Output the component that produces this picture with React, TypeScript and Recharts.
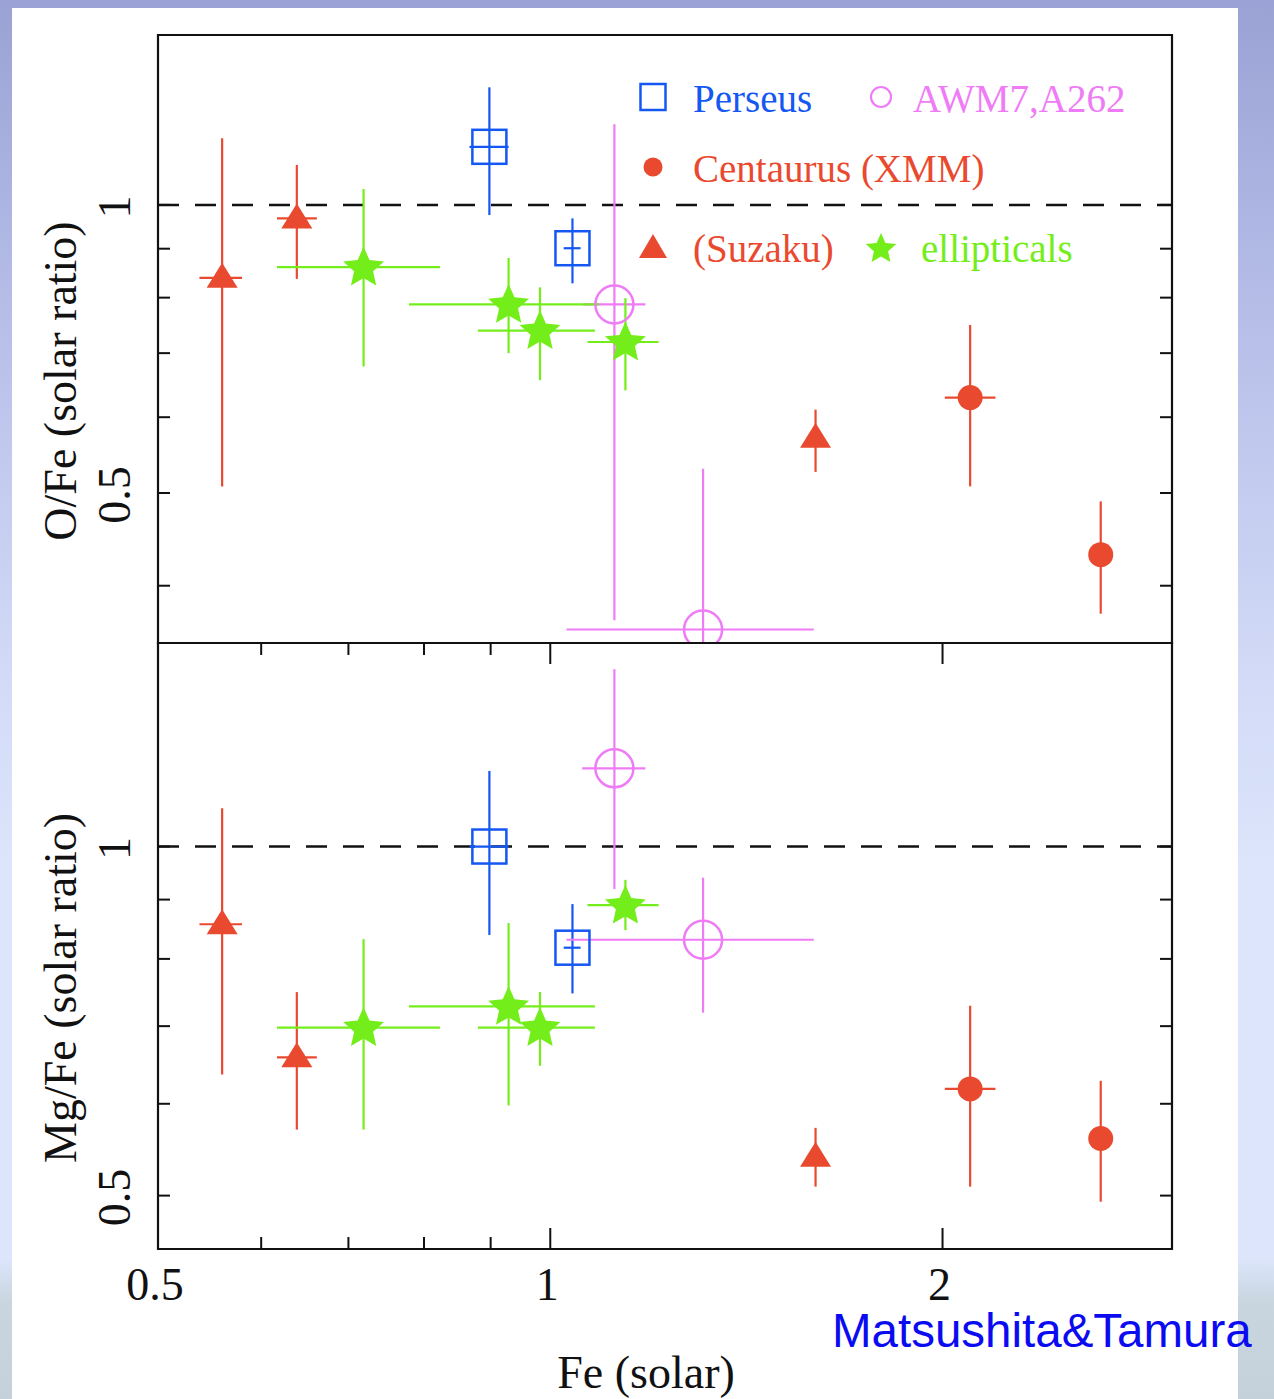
import React from 'react';
import {
  ScatterChart,
  Scatter,
  XAxis,
  YAxis,
  ErrorBar,
  ReferenceLine,
  ReferenceArea,
  CartesianGrid,
  Legend,
} from 'recharts';

// ---------- axis settings ----------
const FE_DOMAIN = [0.5, 3];
const FE_TICKS = [0.5, 0.6, 0.7, 0.8, 0.9, 1, 2];
const FE_LABELS = [0.5, 1, 2];
const O_DOMAIN = [0.3485, 1.505];
const MG_DOMAIN = [0.4497, 1.498];
const O_TICKS = [0.4, 0.5, 0.6, 0.7, 0.8, 0.9, 1];
const MG_TICKS = [0.5, 0.6, 0.7, 0.8, 0.9, 1];
const RATIO_LABELS = [0.5, 1];

// ---------- measurements: [Fe, Fe low, Fe high, ratio, ratio low, ratio high] ----------
type Row = [number, number, number, number, number, number];

const perseusO: Row[] = [
  [0.898, 0.867, 0.929, 1.15, 0.976, 1.327],
  [1.04, 1.024, 1.055, 0.901, 0.828, 0.968],
];
const awmO: Row[] = [
  [1.12, 1.06, 1.183, 0.787, 0.368, 1.214],
  [1.31, 1.029, 1.593, 0.36, 0.3, 0.53],
];
const centaurusO: Row[] = [
  [2.1, 2.008, 2.196, 0.629, 0.508, 0.749],
  [2.645, 2.645, 2.645, 0.431, 0.374, 0.49],
];
const suzakuO: Row[] = [
  [0.56, 0.538, 0.58, 0.839, 0.508, 1.174],
  [0.639, 0.617, 0.662, 0.968, 0.837, 1.101],
  [1.598, 1.598, 1.598, 0.571, 0.526, 0.611],
];
const ellipticalsO: Row[] = [
  [0.719, 0.617, 0.823, 0.861, 0.678, 1.039],
  [0.929, 0.779, 1.09, 0.787, 0.7, 0.88],
  [0.982, 0.88, 1.082, 0.739, 0.656, 0.82],
  [1.142, 1.068, 1.211, 0.719, 0.64, 0.799],
];

const perseusMg: Row[] = [
  [0.898, 0.867, 0.929, 1.0, 0.839, 1.162],
  [1.04, 1.024, 1.055, 0.818, 0.747, 0.892],
];
const awmMg: Row[] = [
  [1.12, 1.058, 1.183, 1.168, 0.919, 1.422],
  [1.31, 1.029, 1.593, 0.831, 0.719, 0.94],
];
const centaurusMg: Row[] = [
  [2.1, 2.008, 2.196, 0.618, 0.509, 0.729],
  [2.645, 2.645, 2.645, 0.56, 0.494, 0.628],
];
const suzakuMg: Row[] = [
  [0.56, 0.538, 0.58, 0.857, 0.636, 1.079],
  [0.639, 0.617, 0.662, 0.658, 0.57, 0.749],
  [1.598, 1.598, 1.598, 0.54, 0.509, 0.572],
];
const ellipticalsMg: Row[] = [
  [0.719, 0.617, 0.823, 0.698, 0.57, 0.832],
  [0.929, 0.779, 1.082, 0.728, 0.598, 0.859],
  [0.982, 0.88, 1.082, 0.698, 0.647, 0.749],
  [1.142, 1.068, 1.211, 0.89, 0.847, 0.936],
];

// ---------- styling ----------
const BLUE = '#1457f3';
const MAGENTA = '#ef7cf6';
const RED = '#e94a2f';
const GREEN = '#74ee1a';
const INK = '#111';
const SERIF = '"Liberation Serif", "DejaVu Serif", serif';
const SANS = '"Liberation Sans", Arial, sans-serif';

const PLOT_W = 1014;
const TOP_H = 608;
const BOTTOM_H = 606;

const toPoints = (rows: Row[]) =>
  rows.map(([fe, feLo, feHi, r, rLo, rHi]) => ({
    fe,
    r,
    feErr: [fe - feLo, feHi - fe],
    rErr: [r - rLo, rHi - r],
  }));

const starPath = (cx: number, cy: number, R: number, r: number) => {
  let d = '';
  for (let i = 0; i < 10; i++) {
    const a = -Math.PI / 2 + (i * Math.PI) / 5;
    const rad = i % 2 === 0 ? R : r;
    d += (i ? 'L' : 'M') + (cx + rad * Math.cos(a)).toFixed(2) + ',' + (cy + rad * Math.sin(a)).toFixed(2);
  }
  return d + 'Z';
};

const SquareMark = (p: any) => (
  <rect x={p.cx - 17} y={p.cy - 17} width={34} height={34} fill="none" stroke={BLUE} strokeWidth={2.5} />
);
const RingMark = (p: any) => (
  <circle cx={p.cx} cy={p.cy} r={19} fill="none" stroke={MAGENTA} strokeWidth={2.5} />
);
const DotMark = (p: any) => <circle cx={p.cx} cy={p.cy} r={12.5} fill={RED} />;
const TriangleMark = (p: any) => (
  <path
    d={`M${p.cx},${p.cy - 15}L${p.cx + 15.5},${p.cy + 10}L${p.cx - 15.5},${p.cy + 10}Z`}
    fill={RED}
  />
);
const StarMark = (p: any) => <path d={starPath(p.cx, p.cy + 1, 21.5, 10)} fill={GREEN} />;

// ---------- axis ticks (drawn inward, mirrored on the opposite frame side) ----------
const makeFeTick = (plotH: number, withLabels: boolean) => (props: any) => {
  const { x, y, payload } = props;
  const v = payload.value;
  const major = FE_LABELS.includes(v);
  const len = major ? 21 : 12;
  return (
    <g>
      <line x1={x} x2={x} y1={y} y2={y - len} stroke={INK} strokeWidth={2} />
      <line x1={x} x2={x} y1={y - plotH} y2={y - plotH + len} stroke={INK} strokeWidth={2} />
      {withLabels && major && (
        <text x={x - 3} y={y + 51} textAnchor="middle" fontSize={46} fontFamily={SERIF} fill={INK}>
          {v}
        </text>
      )}
    </g>
  );
};

const makeRatioTick = () => (props: any) => {
  const { x, y, payload } = props;
  const v = payload.value;
  const major = RATIO_LABELS.includes(v);
  const lx = x - 43;
  return (
    <g>
      <line x1={x} x2={x + 12} y1={y} y2={y} stroke={INK} strokeWidth={2} />
      <line x1={x + PLOT_W - 12} x2={x + PLOT_W} y1={y} y2={y} stroke={INK} strokeWidth={2} />
      {major && (
        <text
          x={lx}
          y={y + 2}
          transform={`rotate(-90 ${lx} ${y + 2})`}
          textAnchor="middle"
          dominantBaseline="central"
          fontSize={46}
          fontFamily={SERIF}
          fill={INK}
        >
          {v}
        </text>
      )}
    </g>
  );
};

const yTitle = (text: string) => (props: any) => {
  const vb = props.viewBox;
  const cx = vb.x + 2;
  const cy = vb.y + vb.height / 2 + 42;
  return (
    <text
      x={cx}
      y={cy}
      transform={`rotate(-90 ${cx} ${cy})`}
      textAnchor="middle"
      dominantBaseline="central"
      fontSize={46}
      fontFamily={SERIF}
      fill={INK}
    >
      {text}
    </text>
  );
};

const xTitle = (props: any) => {
  const vb = props.viewBox;
  return (
    <text
      x={vb.x + 488}
      y={vb.y + 139}
      textAnchor="middle"
      fontSize={46}
      fontFamily={SERIF}
      fill={INK}
    >
      Fe (solar)
    </text>
  );
};

// ---------- legend ----------
const LegendBox = () => (
  <svg width={540} height={210} style={{ display: 'block' }}>
    <rect x={33 - 12.5} y={27 - 13} width={25} height={26} fill="none" stroke={BLUE} strokeWidth={2.5} />
    <text x={73} y={42} fontSize={39} fontFamily={SERIF} fill={BLUE}>Perseus</text>
    <circle cx={261} cy={27} r={10} fill="none" stroke={MAGENTA} strokeWidth={2.2} />
    <text x={293} y={42} fontSize={39} fontFamily={SERIF} fill={MAGENTA}>AWM7,A262</text>
    <circle cx={33} cy={97} r={9.5} fill={RED} />
    <text x={73} y={112} fontSize={39} fontFamily={SERIF} fill={RED}>Centaurus (XMM)</text>
    <path d="M33,164L47,188L19,188Z" fill={RED} />
    <text x={73} y={192} fontSize={39} fontFamily={SERIF} fill={RED}>(Suzaku)</text>
    <path d={starPath(261, 179, 16, 7.5)} fill={GREEN} />
    <text x={301} y={192} fontSize={39} fontFamily={SERIF} fill={GREEN}>ellipticals</text>
  </svg>
);

type Panel = {
  perseus: Row[];
  awm: Row[];
  centaurus: Row[];
  suzaku: Row[];
  ellipticals: Row[];
};

const seriesList = (p: Panel) => [
  { key: 'perseus', rows: p.perseus, color: BLUE, shape: SquareMark },
  { key: 'awm', rows: p.awm, color: MAGENTA, shape: RingMark },
  { key: 'centaurus', rows: p.centaurus, color: RED, shape: DotMark },
  { key: 'suzaku', rows: p.suzaku, color: RED, shape: TriangleMark },
  { key: 'ellipticals', rows: p.ellipticals, color: GREEN, shape: StarMark },
];

const renderSeries = (p: Panel) =>
  seriesList(p).map((s) => (
    <Scatter key={s.key} name={s.key} data={toPoints(s.rows)} shape={s.shape} fill={s.color} isAnimationActive={false}>
      <ErrorBar dataKey="feErr" direction="x" width={0} stroke={s.color} strokeWidth={2.2} />
      <ErrorBar dataKey="rErr" direction="y" width={0} stroke={s.color} strokeWidth={2.2} />
    </Scatter>
  ));

export default function App() {
  return (
    <div
      style={{
        position: 'absolute',
        left: 0,
        top: 0,
        width: 1274,
        height: 1399,
        overflow: 'hidden',
        background:
          'linear-gradient(to bottom, #9aa2d5 0%, #b9c1ea 25%, #d2daf7 48%, #dce5fb 62%, #dce5fb 90%, #c9d6e0 93%, #c4d0da 100%)',
      }}
    >
      <div style={{ position: 'absolute', left: 12, top: 8, width: 1226, height: 1391, background: '#fff' }} />

      {/* O/Fe panel */}
      <div style={{ position: 'absolute', left: 0, top: 0 }}>
        <ScatterChart width={1274} height={660} margin={{ top: 35, right: 102, bottom: 17, left: 58 }}>
          <XAxis
            type="number"
            dataKey="fe"
            scale="log"
            domain={FE_DOMAIN}
            allowDataOverflow
            ticks={FE_TICKS}
            interval={0}
            height={0}
            tickSize={0}
            tickMargin={0}
            axisLine={false}
            tick={makeFeTick(TOP_H, false)}
          />
          <YAxis
            type="number"
            dataKey="r"
            scale="log"
            domain={O_DOMAIN}
            allowDataOverflow
            ticks={O_TICKS}
            interval={0}
            width={100}
            tickSize={0}
            tickMargin={0}
            axisLine={false}
            tick={makeRatioTick()}
            label={{ content: yTitle('O/Fe (solar ratio)') }}
          />
          <ReferenceLine y={1} stroke={INK} strokeWidth={2.5} strokeDasharray="21 16" />
          {renderSeries({
            perseus: perseusO,
            awm: awmO,
            centaurus: centaurusO,
            suzaku: suzakuO,
            ellipticals: ellipticalsO,
          })}
          <ReferenceArea
            x1={FE_DOMAIN[0]}
            x2={FE_DOMAIN[1]}
            y1={O_DOMAIN[0]}
            y2={O_DOMAIN[1]}
            fill="none"
            fillOpacity={0}
            stroke={INK}
            strokeWidth={2.2}
            ifOverflow="visible"
          />
          <Legend
            layout="vertical"
            align="center"
            verticalAlign="middle"
            content={() => <LegendBox />}
            wrapperStyle={{ left: 620, top: 70, width: 540, height: 210 }}
          />
        </ScatterChart>
      </div>

      {/* Mg/Fe panel; its white plot background masks anything spilling from the panel above */}
      <div style={{ position: 'absolute', left: 0, top: 600 }}>
        <ScatterChart width={1274} height={799} margin={{ top: 43, right: 102, bottom: 0, left: 58 }}>
          <CartesianGrid horizontal={false} vertical={false} fill="#fff" stroke="none" />
          <XAxis
            type="number"
            dataKey="fe"
            scale="log"
            domain={FE_DOMAIN}
            allowDataOverflow
            ticks={FE_TICKS}
            interval={0}
            height={150}
            tickSize={0}
            tickMargin={0}
            axisLine={false}
            tick={makeFeTick(BOTTOM_H, true)}
            label={{ content: xTitle }}
          />
          <YAxis
            type="number"
            dataKey="r"
            scale="log"
            domain={MG_DOMAIN}
            allowDataOverflow
            ticks={MG_TICKS}
            interval={0}
            width={100}
            tickSize={0}
            tickMargin={0}
            axisLine={false}
            tick={makeRatioTick()}
            label={{ content: yTitle('Mg/Fe (solar ratio)') }}
          />
          <ReferenceLine y={1} stroke={INK} strokeWidth={2.5} strokeDasharray="21 16" />
          {renderSeries({
            perseus: perseusMg,
            awm: awmMg,
            centaurus: centaurusMg,
            suzaku: suzakuMg,
            ellipticals: ellipticalsMg,
          })}
          <ReferenceArea
            x1={FE_DOMAIN[0]}
            x2={FE_DOMAIN[1]}
            y1={MG_DOMAIN[0]}
            y2={MG_DOMAIN[1]}
            fill="none"
            fillOpacity={0}
            stroke={INK}
            strokeWidth={2.2}
            ifOverflow="visible"
          />
        </ScatterChart>
      </div>

      <svg style={{ position: 'absolute', left: 0, top: 0 }} width={1274} height={1399} pointerEvents="none">
        <text x={832} y={1347} fontSize={47.5} fontFamily={SANS} fill="#0b0bf2">
          Matsushita&amp;Tamura
        </text>
      </svg>
    </div>
  );
}
